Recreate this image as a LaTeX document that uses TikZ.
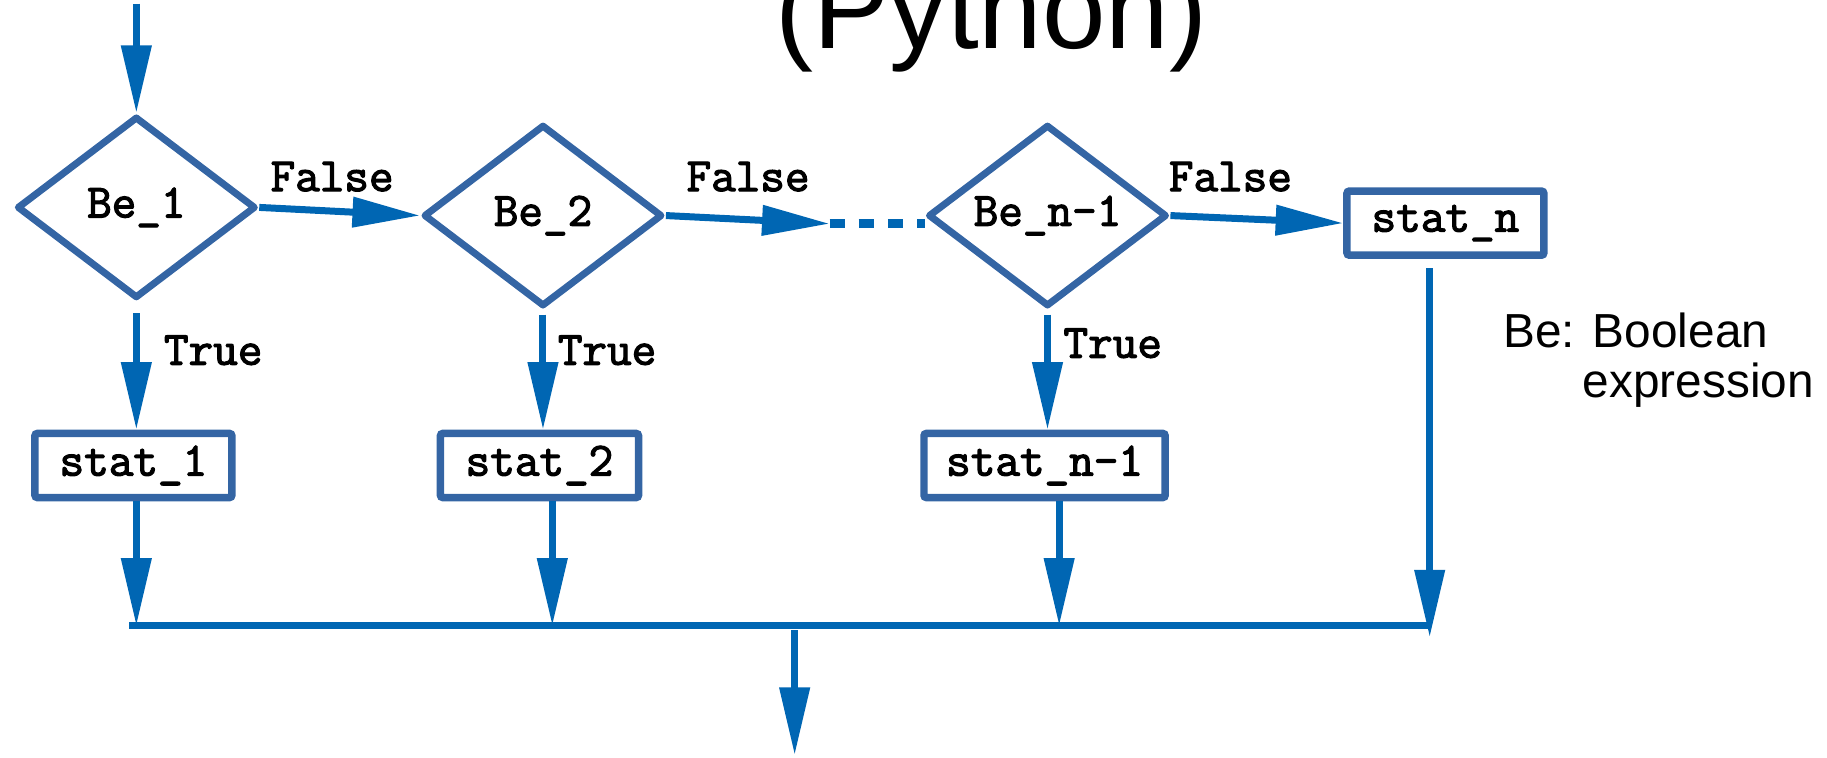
\documentclass[tikz,border=0pt]{standalone}
\usepackage{fontspec}
\setmainfont{Liberation Sans}
\newfontfamily\codefont[FakeBold=2.5]{Latin Modern Mono}
\usetikzlibrary{shapes.geometric,arrows.meta}
\definecolor{connblue}{HTML}{0066B3}
\definecolor{outlineblue}{HTML}{3465A4}
\tikzset{
  codetext/.style={font=\codefont\fontsize{20.5}{24}\selectfont},
  cond/.style={diamond, draw=outlineblue, line width=3pt, minimum width=102.5pt,
    minimum height=78pt, inner sep=0pt, aspect=1.33, codetext, line join=round},
  stmt/.style={rectangle, draw=outlineblue, line width=3.2pt, minimum height=27.5pt,
    inner sep=0pt, rounded corners=1pt, codetext},
  flow/.style={draw=connblue, line width=3pt, -{Triangle[length=29pt,width=12.5pt]}},
  plain/.style={draw=connblue, line width=3pt},
  lbl/.style={codetext, anchor=base, inner sep=0pt},
  note/.style={font=\fontsize{20.5}{24}\selectfont, anchor=base west, inner sep=0pt},
}
\begin{document}
\begin{tikzpicture}[x=0.5pt, y=-0.5pt]
\useasboundingbox (0,0) rectangle (1568,650);
% title (cut at the top)
\node[font=\fontsize{49}{56}\selectfont, anchor=base, inner sep=0pt] (title) at (851,42) {(Python)};
% decisions
\node[cond] (be1) at (117,178) {Be\_1};
\node[cond] (be2) at (466,185) {Be\_2};
\node[cond] (ben) at (899,185) {Be\_n-1};
% statements
\node[stmt, minimum width=84.5pt] (stat1) at (114.5,399.5) {stat\_1};
\node[stmt, minimum width=85pt] (stat2) at (463,399.5) {stat\_2};
\node[stmt, minimum width=103.5pt] (statn1) at (896.5,399.5) {stat\_n-1};
\node[stmt, minimum width=84.5pt] (statn) at (1240.5,191.5) {stat\_n};
% legend
\node[note] (leg1) at (1290,298) {Be: Boolean};
\node[note] (leg2) at (1358,341) {expression};
% coordinates
\coordinate (start) at (117,3);
\coordinate (d1) at (712,192);
\coordinate (m1) at (117,537);
\coordinate (m2) at (474,537);
\coordinate (m3) at (909,537);
\coordinate (m4) at (1227,547);
\coordinate (hl) at (111,537);
\coordinate (hr) at (1227,537);
\coordinate (b0) at (682,541);
\coordinate (b1) at (682,648);
% connectors
\draw[flow] (start) -- (be1.north);
\draw[flow] (be1.east) -- (be2.west);
\draw[flow] (be2.east) -- (d1);
\draw[connblue, line width=3.8pt, dash pattern=on 6.5pt off 6pt] (d1) -- (d1 -| ben.west);
\draw[flow] (ben.east) -- (statn.west);
\draw[flow, shorten <=5pt] (be1.south) -- (be1.south |- stat1.north);
\draw[flow, shorten <=2pt] (be2.south) -- (be2.south |- stat2.north);
\draw[flow, shorten <=2pt] (ben.south) -- (ben.south |- statn1.north);
\draw[flow] (stat1.south -| m1) -- (m1);
\draw[flow] (stat2.south -| m2) -- (m2);
\draw[flow] (statn1.south -| m3) -- (m3);
\draw[flow, shorten <=4pt] (statn.south -| m4) -- (m4);
\draw[plain] (hl) -- (hr);
\draw[flow] (b0) -- (b1);
% labels
\node[lbl] (f1) at (285,164) {False};
\node[lbl] (f2) at (642,164) {False};
\node[lbl] (f3) at (1056,164) {False};
\node[lbl] (t1) at (183,313) {True};
\node[lbl] (t2) at (521,313) {True};
\node[lbl] (t3) at (955,307) {True};
\end{tikzpicture}
\end{document}
